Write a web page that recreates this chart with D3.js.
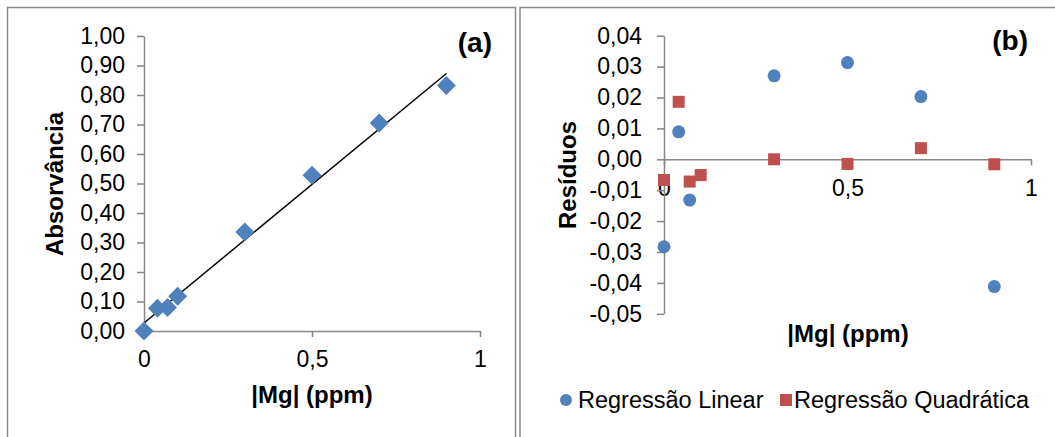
<!DOCTYPE html>
<meta charset="utf-8">
<style>
body { margin: 0; background: #fff; }
text { font-family: Arial, "Liberation Sans", sans-serif; fill: #000; }
.tick text { font-size: 23px; }
.axis path, .axis line { stroke: #868686; stroke-width: 1.5px; }
.title { font-size: 24px; font-weight: bold; }
.panel { font-size: 28px; font-weight: bold; }
.legend { font-size: 23.5px; }
</style>
<body>
<script src="https://cdn.jsdelivr.net/npm/d3@7"></script>
<script>

var W = 1055, H = 437;
var BLUE = '#4F81BD';
var RED = '#C0504D';

// concentration of Mg (ppm)
var conc = [0, 0.04, 0.07, 0.1, 0.3, 0.5, 0.7, 0.9];
// measured absorbance
var absorb = [0.000, 0.077, 0.080, 0.118, 0.336, 0.528, 0.705, 0.832];
// fitted calibration line end points
var fitX = [0, 0.9];
var fitY = [0.027, 0.873];
// residuals, linear model (point at 0.1 sits under the red square)
var resLinX = [0, 0.04, 0.07, 0.3, 0.5, 0.7, 0.9];
var resLin = [-0.0283, 0.0089, -0.0132, 0.027, 0.0313, 0.0203, -0.0412];
// residuals, quadratic model
var resQuad = [-0.0067, 0.0186, -0.0072, -0.0051, 0.0000, -0.0015, 0.0036, -0.0016];

var yTicksA = [0, 0.1, 0.2, 0.3, 0.4, 0.5, 0.6, 0.7, 0.8, 0.9, 1.0];
var yTicksB = [-0.05, -0.04, -0.03, -0.02, -0.01, 0, 0.01, 0.02, 0.03, 0.04];
var xTicks = [0, 0.5, 1];
var legendLabels = ['Regressão Linear', 'Regressão Quadrática'];

var yFmt = function(d) {
  return d3.format('.2f')(d).replace('.', ',').replace('\u2212', '-');
};
var xFmt = function(d) { return String(d).replace('.', ','); };

var svg = d3.select('body').append('svg')
    .attr('width', W)
    .attr('height', H);

// chart frames
svg.append('rect')
    .attr('x', 7.5).attr('y', 7.5)
    .attr('width', 508).attr('height', 440)
    .attr('fill', 'none').attr('stroke', '#888').attr('stroke-width', 1.5);
svg.append('rect')
    .attr('x', 520).attr('y', 7.5)
    .attr('width', 545).attr('height', 440)
    .attr('fill', 'none').attr('stroke', '#888').attr('stroke-width', 1.5);

// ---- panel (a)
var xa = d3.scaleLinear().domain([0, 1]).range([144, 480]);
var ya = d3.scaleLinear().domain([0, 1]).range([331, 36]);

svg.append('g').attr('class', 'axis')
    .attr('transform', 'translate(0,' + ya(0) + ')')
    .call(d3.axisBottom(xa).tickValues(xTicks).tickFormat(xFmt).tickSize(6).tickPadding(14).tickSizeOuter(0))
    .selectAll('text').attr('dy', '0.71em');
svg.append('g').attr('class', 'axis')
    .attr('transform', 'translate(' + xa(0) + ',0)')
    .call(d3.axisLeft(ya).tickValues(yTicksA).tickFormat(yFmt).tickSize(7).tickPadding(12).tickSizeOuter(0));

svg.append('line')
    .attr('x1', xa(fitX[0])).attr('y1', ya(fitY[0]))
    .attr('x2', xa(fitX[1])).attr('y2', ya(fitY[1]))
    .attr('stroke', '#000').attr('stroke-width', 1.5);

svg.append('g').selectAll('path')
    .data(conc)
    .enter().append('path')
    .attr('d', 'M0,-9.5L9.5,0L0,9.5L-9.5,0Z')
    .attr('fill', BLUE)
    .attr('transform', function(d, i) { return 'translate(' + xa(d) + ',' + ya(absorb[i]) + ')'; });

svg.append('text').attr('class', 'title')
    .attr('x', 312).attr('y', 403).attr('text-anchor', 'middle')
    .text('|Mg| (ppm)');
svg.append('text').attr('class', 'title')
    .attr('transform', 'translate(63,184) rotate(-90)').attr('text-anchor', 'middle')
    .text('Absorvância');
svg.append('text').attr('class', 'panel')
    .attr('x', 492).attr('y', 52).attr('text-anchor', 'end')
    .text('(a)');

// ---- panel (b)
var xb = d3.scaleLinear().domain([0, 1]).range([664, 1031]);
var yb = d3.scaleLinear().domain([-0.05, 0.04]).range([313.8, 35.7]);

svg.append('g').attr('class', 'axis')
    .attr('transform', 'translate(0,' + yb(0) + ')')
    .call(d3.axisBottom(xb).tickValues(xTicks).tickFormat(xFmt).tickSize(6).tickPadding(14).tickSizeOuter(0))
    .selectAll('text').attr('dy', '0.71em');
svg.append('g').attr('class', 'axis')
    .attr('transform', 'translate(' + xb(0) + ',0)')
    .call(d3.axisLeft(yb).tickValues(yTicksB).tickFormat(yFmt).tickSize(7).tickPadding(15).tickSizeOuter(0));

svg.append('g').selectAll('circle')
    .data(resLinX)
    .enter().append('circle')
    .attr('cx', function(d) { return xb(d); })
    .attr('cy', function(d, i) { return yb(resLin[i]); })
    .attr('r', 6.5)
    .attr('fill', BLUE);

svg.append('g').selectAll('rect')
    .data(conc)
    .enter().append('rect')
    .attr('x', function(d) { return xb(d) - 6; })
    .attr('y', function(d, i) { return yb(resQuad[i]) - 6; })
    .attr('width', 12).attr('height', 12)
    .attr('fill', RED);

svg.append('text').attr('class', 'title')
    .attr('x', 848).attr('y', 342).attr('text-anchor', 'middle')
    .text('|Mg| (ppm)');
svg.append('text').attr('class', 'title')
    .attr('transform', 'translate(576,175) rotate(-90)').attr('text-anchor', 'middle')
    .text('Resíduos');
svg.append('text').attr('class', 'panel')
    .attr('x', 1028).attr('y', 50).attr('text-anchor', 'end')
    .text('(b)');

// legend
var leg = svg.append('g');
leg.append('circle').attr('cx', 566).attr('cy', 400).attr('r', 6).attr('fill', BLUE);
leg.append('text').attr('class', 'legend').attr('x', 578).attr('y', 408).text(legendLabels[0]);
leg.append('rect').attr('x', 780).attr('y', 394).attr('width', 12).attr('height', 12).attr('fill', RED);
leg.append('text').attr('class', 'legend').attr('x', 794).attr('y', 408).text(legendLabels[1]);

</script>
